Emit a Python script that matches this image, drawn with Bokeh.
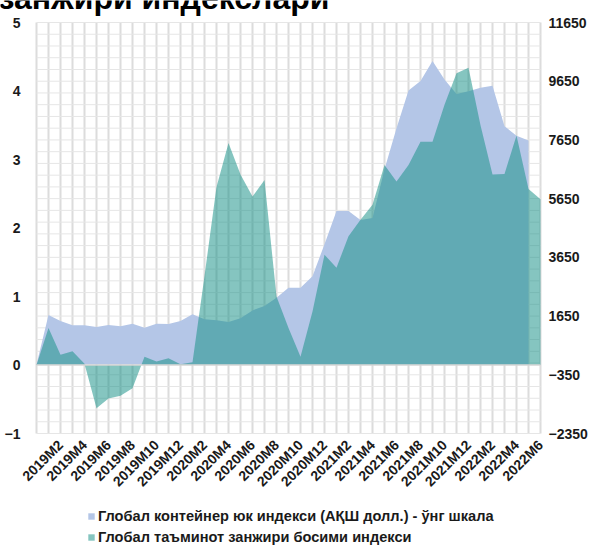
import math

from bokeh.embed import file_html
from bokeh.models import (FixedTicker, Label, Legend, LegendItem, LinearAxis,
                          Range1d)
from bokeh.plotting import figure
from bokeh.resources import INLINE

# Monthly categories, 2019M1 .. 2022M6
months = [
    "2019M1", "2019M2", "2019M3", "2019M4", "2019M5", "2019M6",
    "2019M7", "2019M8", "2019M9", "2019M10", "2019M11", "2019M12",
    "2020M1", "2020M2", "2020M3", "2020M4", "2020M5", "2020M6",
    "2020M7", "2020M8", "2020M9", "2020M10", "2020M11", "2020M12",
    "2021M1", "2021M2", "2021M3", "2021M4", "2021M5", "2021M6",
    "2021M7", "2021M8", "2021M9", "2021M10", "2021M11", "2021M12",
    "2022M1", "2022M2", "2022M3", "2022M4", "2022M5", "2022M6",
]

# Global supply chain pressure index (left scale)
pressure = [
    0.54, 0.15, 0.20, 0.02, -0.63, -0.49, -0.45, -0.34, 0.12, 0.05, 0.10, 0.01,
    0.04, 1.30, 2.60, 3.24, 2.78, 2.46, 2.70, 1.00, 0.54, 0.12, 0.78, 1.61,
    1.42, 1.88, 2.12, 2.34, 2.92, 2.68, 2.92, 3.26, 3.26, 3.80, 4.26, 4.34,
    3.50, 2.78, 2.79, 3.35, 2.57, 2.42,
]

# Global container freight index, USD (right scale), through 2022M5
freight = [
    1687, 1482, 1335, 1335, 1276, 1346, 1300, 1391, 1253, 1391, 1377, 1482,
    1710, 1540, 1505, 1447, 1573, 1843, 1993, 2275, 2613, 2613, 3010, 4095,
    5227, 5227, 4923, 4993, 6650, 8050, 9333, 9660, 10337, 9707, 9217, 9310,
    9427, 9497, 8120, 7793, 7630,
]

left_ticks = [-1, 0, 1, 2, 3, 4, 5]
right_ticks = [-2350, -350, 1650, 3650, 5650, 7650, 9650, 11650]
right_minor_step = 400
shown_labels = months[1::2]

title_text = "занжири индекслари"
freight_name = "Глобал контейнер юк индекси (АҚШ долл.) - ўнг шкала"
pressure_name = "Глобал таъминот занжири босими индекси"

FONT = "Liberation Sans"
TEXT = "#1a1a1a"

# month k (0-based) sits at x = k + 1; x = 0 is where both areas rise from the base
pos = [i + 1 for i in range(len(months))]
x_lo, x_hi = 0, len(months)

# ---- page geometry: the frame fills the canvas, the data box sits inside it
W, H = 593, 545
BOX_L, BOX_R, BOX_T, BOX_B = 36, 540, 22, 433


def padded(lo, hi, a, b, n):
    """Range so that [lo, hi] occupies pixels a..b of an n-pixel span."""
    per_px = (hi - lo) / (b - a)
    return Range1d(lo - a * per_px, hi + (n - b) * per_px)


x_range = padded(x_lo, x_hi, BOX_L, BOX_R, W)
y_range = padded(left_ticks[0], left_ticks[-1], H - BOX_B, H - BOX_T, H)
y_right = padded(right_ticks[0], right_ticks[-1], H - BOX_B, H - BOX_T, H)

p = figure(
    width=W, height=H, x_range=x_range, y_range=y_range,
    output_backend="svg", toolbar_location=None,
    min_border_left=0, min_border_right=0, min_border_top=0, min_border_bottom=0,
)
p.extra_y_ranges = {"freight": y_right}
p.outline_line_color = None
p.background_fill_color = "white"
p.border_fill_color = "white"
p.xgrid.visible = False
p.ygrid.visible = False

# grid: a vertical line per month boundary, horizontal lines on the right scale
vx = list(range(x_lo, x_hi + 1))
p.segment(x0=vx, x1=vx, y0=left_ticks[0], y1=left_ticks[-1],
          line_color="#DCDCDC", line_width=2)
hy = list(range(right_ticks[0], right_ticks[-1] + 1, right_minor_step))
p.segment(x0=x_lo, x1=x_hi, y0=hy, y1=hy, y_range_name="freight",
          line_color="#E6E6E6", line_width=1)

blue = p.varea(
    x=[x_lo] + pos[:len(freight)], y1=0, y2=[0] + freight,
    y_range_name="freight", fill_color="#B4C6E7", fill_alpha=1.0,
)
teal = p.varea(
    x=[x_lo] + pos, y1=0, y2=[0] + pressure,
    fill_color="#169086", fill_alpha=0.52,
)

# category axis line at zero
p.segment(x0=[x_lo], x1=[x_hi], y0=[0], y1=[0], line_color="#D4D4D4", line_width=1.5)

# ---- axes, pinned to the edges of the data box
ly = p.yaxis[0]
ly.ticker = FixedTicker(ticks=left_ticks)
ly.fixed_location = x_lo
ly.major_label_standoff = 16

right_axis = LinearAxis(y_range_name="freight", ticker=FixedTicker(ticks=right_ticks))
right_axis.fixed_location = x_hi
right_axis.major_label_standoff = 8
p.add_layout(right_axis, "right")

xa = p.xaxis[0]
xa.ticker = FixedTicker(ticks=pos[1::2])
xa.major_label_overrides = {x: lab for x, lab in zip(pos[1::2], shown_labels)}
xa.major_label_orientation = math.pi / 4
xa.fixed_location = left_ticks[0]
xa.major_label_standoff = 9

for ax in (ly, right_axis, xa):
    ax.axis_line_color = None
    ax.major_tick_line_color = None
    ax.minor_tick_line_color = None
    ax.major_tick_out = 0
    ax.major_tick_in = 0
    ax.minor_tick_out = 0
    ax.minor_tick_in = 0
    ax.major_label_text_font = FONT
    ax.major_label_text_font_style = "bold"
    ax.major_label_text_color = TEXT
ly.major_label_text_font_size = "14px"
right_axis.major_label_text_font_size = "14px"
xa.major_label_text_font_size = "14px"

legend = Legend(
    items=[LegendItem(label=freight_name, renderers=[blue]),
           LegendItem(label=pressure_name, renderers=[teal])],
    location=(87, 0), orientation="vertical",
    glyph_width=8, glyph_height=8, label_standoff=3,
    label_height=17, spacing=4, padding=0, margin=0,
    label_text_font=FONT, label_text_font_style="bold",
    label_text_font_size="14.6px", label_text_color=TEXT,
    border_line_color=None, background_fill_alpha=0,
)
p.add_layout(legend)

p.add_layout(Label(
    x=-2, y=H + 3, x_units="screen", y_units="screen", text=title_text,
    text_font=FONT, text_font_style="bold", text_font_size="32px",
    text_color="black", text_baseline="alphabetic",
))

open("out.html", "w").write(file_html(p, INLINE))
